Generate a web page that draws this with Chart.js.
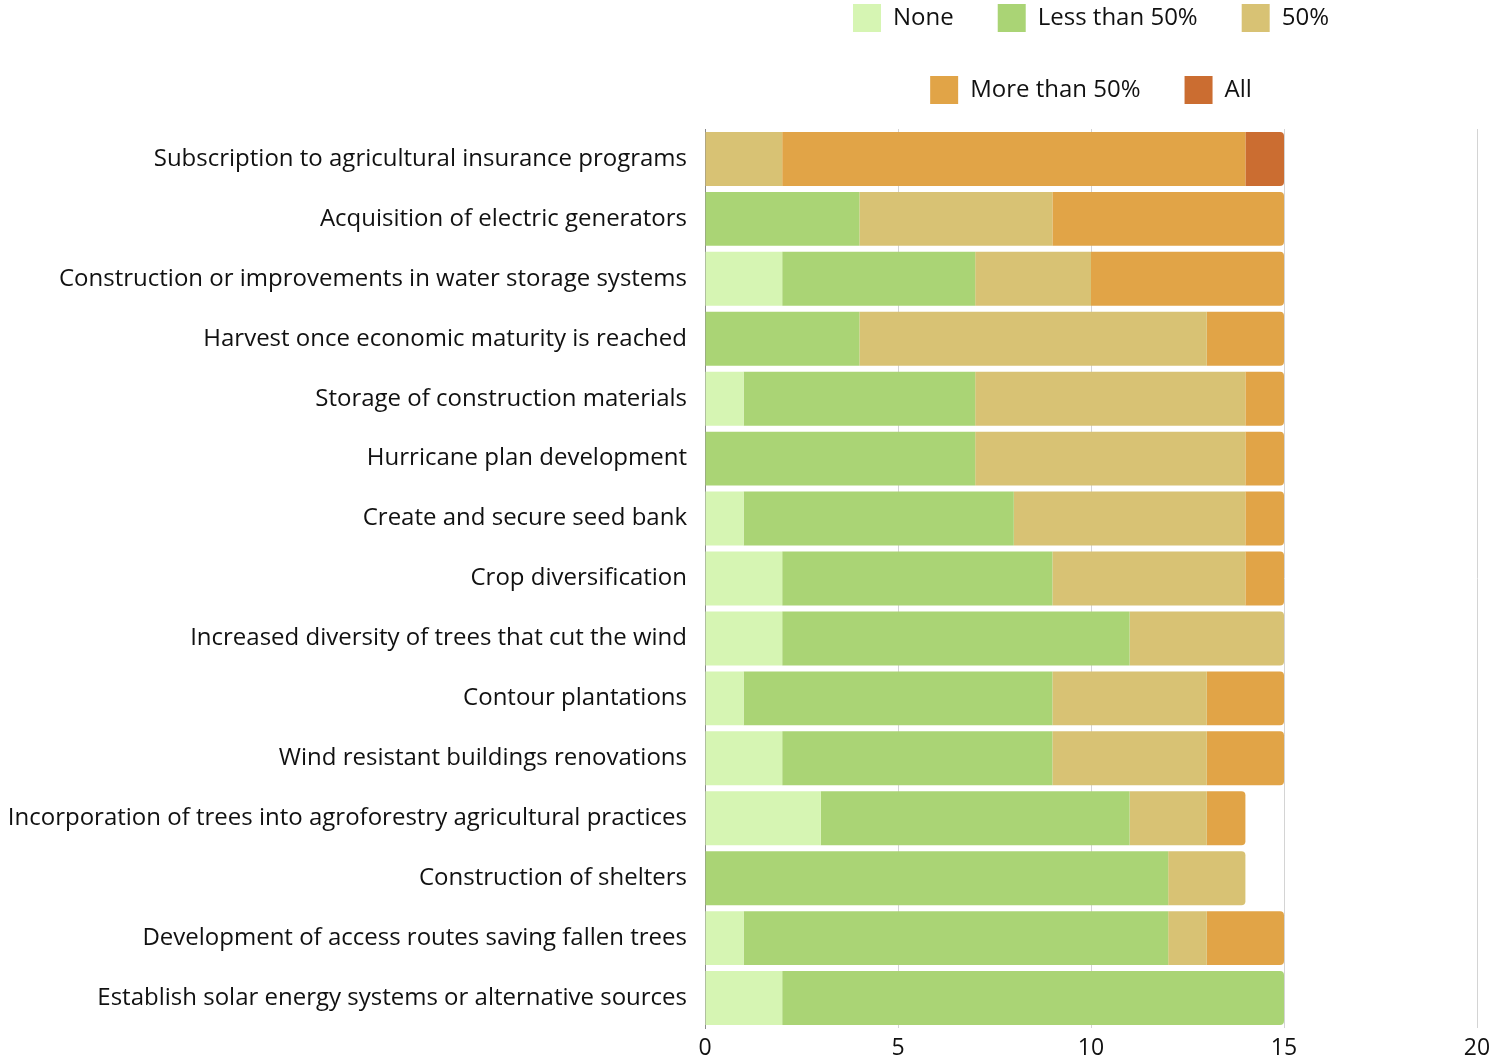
<!DOCTYPE html>
<html>
<head>
<meta charset="utf-8">
<script src="https://cdn.jsdelivr.net/npm/chart.js@4/dist/chart.umd.min.js"></script>
<style>
  html, body { margin: 0; padding: 0; background: #fff; }
  #wrap { width: 1510px; height: 1061px; }
</style>
</head>
<body>
<div id="wrap"><canvas id="chart"></canvas></div>
<script>
const categories = [
  "Subscription to agricultural insurance programs",
  "Acquisition of electric generators",
  "Construction or improvements in water storage systems",
  "Harvest once economic maturity is reached",
  "Storage of construction materials",
  "Hurricane plan development",
  "Create and secure seed bank",
  "Crop diversification",
  "Increased diversity of trees that cut the wind",
  "Contour plantations",
  "Wind resistant buildings renovations",
  "Incorporation of trees into agroforestry agricultural practices",
  "Construction of shelters",
  "Development of access routes saving fallen trees",
  "Establish solar energy systems or alternative sources"
];

const seriesNames = ["None", "Less than 50%", "50%", "More than 50%", "All"];
const noneVals = [0, 0, 2, 0, 1, 0, 1, 2, 2, 1, 2, 3, 0, 1, 2];
const lessVals = [0, 4, 5, 4, 6, 7, 7, 7, 9, 8, 7, 8, 12, 11, 13];
const halfVals = [2, 5, 3, 9, 7, 7, 6, 5, 4, 4, 4, 2, 2, 1, 0];
const moreVals = [12, 6, 5, 2, 1, 1, 1, 1, 0, 2, 2, 1, 0, 2, 0];
const allVals  = [1, 0, 0, 0, 0, 0, 0, 0, 0, 0, 0, 0, 0, 0, 0];
const xTicks = [0, 5, 10, 15, 20];

const colors = ["#d6f5b3", "#aad475", "#d8c274", "#e1a447", "#cb6d31"];
const series = [noneVals, lessVals, halfVals, moreVals, allVals];

// last non-zero segment of each row gets the rounded end
function lastSegment(row) {
  let last = -1;
  series.forEach((vals, i) => { if (vals[row] > 0) last = i; });
  return last;
}

Chart.defaults.font.family = "'Open Sans', Lato, sans-serif";
Chart.defaults.color = "#111";

// pull the legend up to the top edge
const legendShift = {
  id: "legendShift",
  afterLayout(chart) {
    const lg = chart.legend;
    if (!lg) return;
    lg.top -= 15;
    lg.bottom -= 15;
  }
};

new Chart(document.getElementById("chart"), {
  type: "bar",
  data: {
    labels: categories,
    datasets: series.map((vals, i) => ({
      label: seriesNames[i],
      data: vals,
      backgroundColor: colors[i],
      borderWidth: 0,
      borderRadius: ctx => (lastSegment(ctx.dataIndex) === ctx.datasetIndex ? 4 : 0),
      barPercentage: 0.9,
      categoryPercentage: 1
    }))
  },
  options: {
    indexAxis: "y",
    responsive: true,
    maintainAspectRatio: false,
    animation: false,
    layout: { padding: { top: -25, right: 33, bottom: 0, left: 0 } },
    plugins: {
      legend: {
        position: "top",
        fullSize: false,
        labels: {
          boxWidth: 28,
          boxHeight: 28,
          padding: 44,
          font: { size: 24 }
        }
      },
      tooltip: { enabled: false }
    },
    scales: {
      x: {
        stacked: true,
        min: 0,
        max: 20,
        afterBuildTicks: scale => { scale.ticks = xTicks.map(v => ({ value: v })); },
        afterFit: scale => { scale.height = 33; },
        grid: { color: "#d4d4d4", drawTicks: false },
        border: { display: false },
        ticks: { padding: 7, font: { size: 23 } }
      },
      y: {
        stacked: true,
        afterFit: scale => { scale.width = 705; },
        grid: { display: false, drawTicks: false },
        border: { display: true, color: "#8a8a8a" },
        ticks: { padding: 18, font: { size: 24 } }
      }
    }
  },
  plugins: [legendShift]
});
</script>
</body>
</html>
